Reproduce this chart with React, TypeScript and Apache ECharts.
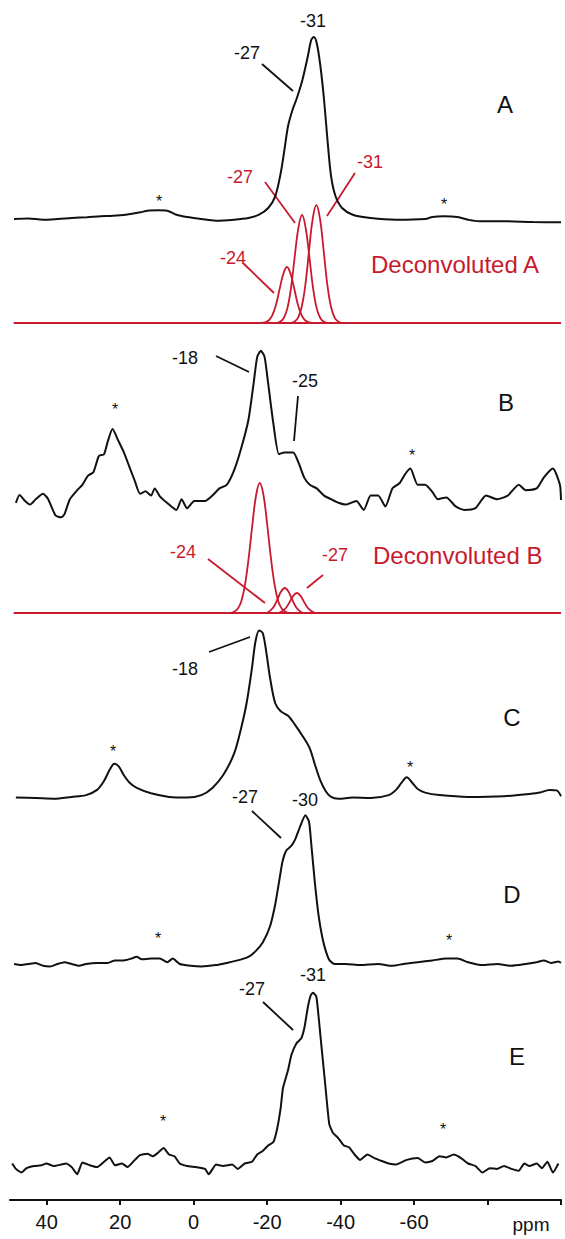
import React, { useEffect, useRef } from "react";
import * as echarts from "echarts";

type Pt = [number, number];

// x axis (ppm)
const ppmTickValues = [-100, -80, -60, -40, -20, 0, 20, 40];
const ppmLabelValues = [40, 20, 0, -20, -40, -60];

// Spectrum A (intensity above its own baseline)
const spectrumA: Pt[] = [
  [48.9, -1], [45, -0.5], [41.0, -1.7], [37, -1.0], [33.2, 0], [29, 0.8], [25.3, 1.7], [22, 2.2], [18.5, 3.3],
  [14.5, 5.7], [12.6, 7.3], [9.6, 7.7], [7.2, 7.3], [4.7, 3.3], [1.8, 1], [-2.1, -1], [-6.0, -2.7],
  [-11.0, -1.7], [-14.9, 0], [-17.8, 3.3], [-20.3, 10], [-22.2, 21.7], [-23.7, 45], [-24.7, 68],
  [-25.7, 92], [-26.9, 108], [-28.1, 120], [-29.6, 138], [-31.1, 162], [-32.0, 178], [-32.7, 181],
  [-33.5, 175], [-34.5, 152], [-35.5, 118], [-36.5, 75], [-37.4, 42], [-38.6, 22], [-40.4, 10],
  [-43.3, 3.3], [-48.2, 0], [-55.1, -1.7], [-63.0, -1], [-65.0, 1], [-67.9, 1.7], [-71.8, 1],
  [-74.7, -1.7], [-77.7, -3.3], [-84.5, -3.3], [-92.4, -4], [-100, -4.3],
];
const decA24: Pt[] = [
  [-18.4, 0], [-19.4, 0.6], [-20.4, 2.5], [-21.4, 7.6], [-22.4, 18], [-23.4, 34], [-24.4, 49], [-25.4, 56],
  [-26.4, 49], [-27.4, 34], [-28.4, 18], [-29.4, 7.6], [-30.4, 2.5], [-31.4, 0.6], [-32.4, 0],
];
const decA27: Pt[] = [
  [-22.5, 0], [-23.5, 1.2], [-24.5, 4.8], [-25.5, 14.6], [-26.5, 35], [-27.5, 66], [-28.5, 95], [-29.5, 108],
  [-30.5, 95], [-31.5, 66], [-32.5, 35], [-33.5, 14.6], [-34.5, 4.8], [-35.5, 1.2], [-36.5, 0],
];
const decA31: Pt[] = [
  [-26.4, 0], [-27.4, 1.3], [-28.4, 5.2], [-29.4, 16], [-30.4, 38], [-31.4, 72], [-32.4, 104], [-33.4, 118],
  [-34.4, 104], [-35.4, 72], [-36.4, 38], [-37.4, 16], [-38.4, 5.2], [-39.4, 1.3], [-40.4, 0],
];

// Spectrum B
const spectrumB: Pt[] = [
  [48.4, 2.2], [47.4, 10.1], [45.9, 4.0], [44.5, 0.4], [43.0, 5.8], [41.0, 11.2], [39.6, 5.8], [37.6, -10.5],
  [36.1, -12.3], [35.2, -9.4], [33.7, 5.8], [31.7, 14.8], [30.3, 20.2], [28.8, 29.2], [27.3, 32.8], [25.8, 49.0],
  [24.4, 50.8], [23.4, 63.4], [22.1, 76.0], [20.4, 63.4], [19.0, 52.6], [17.5, 38.2], [16.0, 23.8], [14.6, 11.2],
  [13.1, 13.7], [11.6, 9.4], [10.6, 16.6], [9.2, 8.6], [6.7, 0.4], [4.7, -5.0], [3.3, 5.8], [1.8, -3.2],
  [-0.2, 4.0], [-3.1, 4.0], [-5.1, 9.4], [-7.0, 16.6], [-9.0, 20.2], [-11.0, 34.6], [-12.9, 56.2], [-14.9, 85.0],
  [-16.3, 121.1], [-17.3, 148.1], [-18.3, 154.2], [-19.3, 148.1], [-20.3, 121.1], [-21.7, 81.4], [-23.2, 50.8],
  [-24.7, 52.6], [-27.1, 52.6], [-28.6, 41.8], [-30.1, 27.4], [-31.6, 20.2], [-33.5, 16.6], [-35.5, 9.4],
  [-37.4, 5.8], [-39.4, 2.2], [-41.4, 0.4], [-44.3, 4.0], [-46.3, -5.0], [-48.2, 9.4], [-50.2, 9.4], [-52.2, -1.4],
  [-54.1, 16.6], [-56.1, 22.0], [-57.6, 31.0], [-59.0, 36.4], [-61.0, 20.2], [-63.0, 20.2], [-65.0, 13.0],
  [-66.4, 5.8], [-68.8, 7.6], [-71.3, -1.4], [-73.7, -5.0], [-76.7, -3.2], [-79.6, 9.4], [-82.6, 5.8],
  [-85.5, 9.4], [-88.5, 20.2], [-90.4, 14.8], [-93.4, 16.6], [-95.3, 27.4], [-97.8, 36.4], [-99.7, 20.2], [-100, 5],
];
const decB18: Pt[] = [
  [-10, 0], [-11, 1.3], [-12, 4.3], [-13, 12], [-14, 29], [-15, 56], [-16, 89], [-17, 118], [-18, 130],
  [-19, 118], [-20, 89], [-21, 56], [-22, 29], [-23, 12], [-24, 4.3], [-25, 1.3], [-26, 0],
];
const decB24: Pt[] = [
  [-19.8, 0], [-20.8, 2.1], [-21.8, 6.2], [-22.8, 13.5], [-23.8, 21.4], [-24.8, 25], [-25.8, 21.4],
  [-26.8, 13.5], [-27.8, 6.2], [-28.8, 2.1], [-29.8, 0],
];
const decB27: Pt[] = [
  [-23.1, 0], [-24.1, 1.7], [-25.1, 5], [-26.1, 10.8], [-27.1, 17.1], [-28.1, 20], [-29.1, 17.1],
  [-30.1, 10.8], [-31.1, 5], [-32.1, 1.7], [-33.1, 0],
];

// Spectrum C
const spectrumC: Pt[] = [
  [48.4, 0.4], [43.0, 0], [38.1, -0.7], [33.2, 1.1], [29.3, 2.9], [26.3, 8.1], [24.4, 17.1], [22.9, 27.9],
  [21.6, 34.2], [20.4, 31.7], [19.0, 22.7], [17.5, 15.5], [15.5, 10.1], [11.6, 4.7], [6.7, 1.1], [1.8, 0.4],
  [-2.1, 2.9], [-5.1, 10.1], [-8.0, 22.7], [-11.0, 44.3], [-12.9, 69.5], [-14.4, 94.7], [-15.9, 130.8],
  [-16.8, 156.0], [-17.8, 167.6], [-18.8, 165.0], [-19.8, 145.2], [-20.8, 120.0], [-22.2, 94.7], [-23.7, 86.8],
  [-25.7, 82.2], [-27.6, 73.2], [-29.6, 62.3], [-31.6, 49.7], [-33.0, 33.5], [-34.5, 17.3], [-36.0, 6.5],
  [-37.4, 1.1], [-39.4, -0.7], [-43.3, 0.4], [-48.2, 0], [-53.1, 2.9], [-55.1, 8.1], [-56.6, 15.3], [-58.0, 20.8],
  [-59.5, 15.3], [-61.0, 9.0], [-63.0, 5.4], [-66.9, 2.9], [-74.7, 1.1], [-84.5, 1.8], [-91.4, 4.0],
  [-94.3, 5.4], [-96.8, 8.1], [-98.8, 7.6], [-100, 1.8],
];

// Spectrum D
const spectrumD: Pt[] = [
  [48.9, 0], [46.9, -1.1], [45.0, 0], [43.0, 1.1], [41.0, -1.8], [39.1, -2.5], [37.1, 0], [35.2, 1.8],
  [33.2, 0], [31.2, -1.8], [29.3, 0], [26.3, 1.1], [23.4, 1.1], [21.4, 3.6], [19.0, 3.6], [17.0, 5.4],
  [15.5, 7.2], [14.1, 4.7], [11.6, 5.4], [9.2, 5.4], [7.2, 1.8], [5.7, 5.4], [3.8, 0], [0.8, -1.8],
  [-2.1, -2.5], [-6.1, -1.1], [-9.0, 1.1], [-12.0, 3.6], [-14.9, 7.2], [-16.8, 12.6], [-18.8, 21.6],
  [-20.8, 37.8], [-22.2, 59.5], [-23.2, 81.1], [-24.2, 102.7], [-25.2, 113.5], [-26.5, 117.8], [-27.6, 124.3],
  [-29.1, 138.7], [-30.4, 148.8], [-31.4, 142.3], [-32.0, 120.7], [-33.0, 81.1], [-34.0, 48.6], [-35.0, 27.0],
  [-36.0, 12.6], [-37.0, 3.6], [-38.4, 0], [-41.4, 0], [-45.3, -1.1], [-50.2, 0], [-54.1, -1.8], [-57.1, 0],
  [-61.0, 1.8], [-65.0, 3.6], [-68.8, 5.4], [-71.8, 5.4], [-74.7, 1.8], [-78.6, -1.1], [-82.6, 0],
  [-86.5, -1.8], [-90.4, 0], [-93.4, 1.8], [-95.3, 3.6], [-97.3, 1.1], [-99.3, 2.5], [-100, 1.1],
];

// Spectrum E
const spectrumE: Pt[] = [
  [49.4, 2.5], [48.4, -2.9], [46.9, -6.5], [45.5, -2.2], [43.5, 0], [41.5, 0.7], [40.1, 2.5], [38.1, 0],
  [36.1, 1.4], [34.7, 2.5], [33.2, -1.1], [31.7, -8.3], [30.3, 3.6], [28.3, 0.7], [26.3, -1.1], [24.4, 4.3],
  [22.9, 8.6], [21.4, 0.7], [19.5, 2.5], [18.0, -1.1], [16.0, 6.1], [14.6, 10.8], [12.6, 12.2], [11.1, 9.7],
  [9.7, 13.3], [8.2, 18.0], [6.7, 11.5], [5.2, 9.7], [3.8, 2.5], [1.8, 0], [-0.6, -1.1], [-3.1, -2.9],
  [-4.1, -8.3], [-6.1, 1.4], [-8.0, 0], [-10.5, 1.4], [-12.0, -2.9], [-13.9, 2.5], [-15.9, 4.3], [-17.3, 11.5],
  [-18.8, 15.1], [-20.3, 20.5], [-21.7, 24.1], [-22.7, 36.8], [-23.7, 58.4], [-24.3, 77.7], [-25.7, 96],
  [-26.6, 111], [-28.0, 122.7], [-29.3, 127.7], [-30.2, 139.3], [-31.1, 159.3], [-31.9, 171], [-32.5, 173.3],
  [-33.4, 169.3], [-34.1, 146], [-34.8, 119.3], [-35.7, 86], [-36.9, 42.2], [-37.9, 33.2], [-39.4, 27.7],
  [-40.9, 20.5], [-42.3, 18.7], [-43.8, 11.5], [-45.3, 6.1], [-47.3, 11.5], [-49.2, 7.9], [-51.2, 5.0],
  [-53.1, 2.5], [-55.1, 1.4], [-58.0, 6.1], [-61.0, 7.9], [-63.0, 3.6], [-65.0, 5.0], [-66.9, 9.7],
  [-68.8, 8.6], [-70.8, 11.5], [-72.8, 7.9], [-74.7, 2.5], [-76.7, 0], [-78.6, -6.5], [-80.6, -2.2],
  [-82.6, -2.9], [-84.5, 0], [-86.5, -2.9], [-88.5, -4.7], [-90.0, 2.5], [-91.4, 0], [-93.4, 2.5],
  [-94.8, -2.2], [-96.3, 4.3], [-97.8, -6.5], [-99.3, 2.5],
];

const redBaseline: Pt[] = [[49, 0], [-100, 0]];

// layout: vertical offset of each trace (y units = px above the axis line)
const OFFSET = { A: 982, Ad: 877, B: 695, Bd: 587, C: 402, D: 236, E: 34 };

const BLACK = "#111111";
const RED = "#c8192e";
const FONT = '"Liberation Sans", Arial, Helvetica, sans-serif';

type Txt = { t: string; x: number; y: number; s: number; c: string; a?: string };
const texts: Txt[] = [
  { t: "-31", x: 313, y: 21, s: 18, c: BLACK },
  { t: "-27", x: 247, y: 53, s: 18, c: BLACK },
  { t: "A", x: 505, y: 104, s: 24, c: BLACK },
  { t: "*", x: 159, y: 201, s: 16, c: BLACK },
  { t: "*", x: 444, y: 204, s: 16, c: BLACK },
  { t: "-27", x: 240, y: 177, s: 18, c: RED },
  { t: "-31", x: 370, y: 162, s: 18, c: RED },
  { t: "-24", x: 233, y: 258, s: 18, c: RED },
  { t: "Deconvoluted A", x: 371, y: 264, s: 24, c: RED, a: "left" },
  { t: "-18", x: 185, y: 358, s: 18, c: BLACK },
  { t: "-25", x: 305, y: 381, s: 18, c: BLACK },
  { t: "B", x: 506, y: 402, s: 24, c: BLACK },
  { t: "*", x: 115, y: 409, s: 16, c: BLACK },
  { t: "*", x: 412, y: 455, s: 16, c: BLACK },
  { t: "-24", x: 183, y: 552, s: 18, c: RED },
  { t: "-27", x: 335, y: 555, s: 18, c: RED },
  { t: "Deconvoluted B", x: 373, y: 555, s: 24, c: RED, a: "left" },
  { t: "-18", x: 185, y: 669, s: 18, c: BLACK },
  { t: "C", x: 512, y: 717, s: 24, c: BLACK },
  { t: "*", x: 113, y: 751, s: 16, c: BLACK },
  { t: "*", x: 410, y: 767, s: 16, c: BLACK },
  { t: "-27", x: 245, y: 797, s: 18, c: BLACK },
  { t: "-30", x: 305, y: 800, s: 18, c: BLACK },
  { t: "D", x: 512, y: 894, s: 24, c: BLACK },
  { t: "*", x: 158, y: 938, s: 16, c: BLACK },
  { t: "*", x: 449, y: 940, s: 16, c: BLACK },
  { t: "-27", x: 252, y: 989, s: 18, c: BLACK },
  { t: "-31", x: 313, y: 975, s: 18, c: BLACK },
  { t: "E", x: 517, y: 1056, s: 24, c: BLACK },
  { t: "*", x: 163, y: 1121, s: 16, c: BLACK },
  { t: "*", x: 443, y: 1129, s: 16, c: BLACK },
  { t: "ppm", x: 531, y: 1224, s: 19, c: BLACK },
];

type Lead = { x1: number; y1: number; x2: number; y2: number; c: string };
const leaders: Lead[] = [
  { x1: 262, y1: 64, x2: 293, y2: 91, c: BLACK },
  { x1: 265, y1: 182, x2: 295, y2: 223, c: RED },
  { x1: 355, y1: 173, x2: 327, y2: 216, c: RED },
  { x1: 243, y1: 263, x2: 274, y2: 293, c: RED },
  { x1: 216, y1: 356, x2: 249, y2: 372, c: BLACK },
  { x1: 298, y1: 396, x2: 294, y2: 441, c: BLACK },
  { x1: 208, y1: 559, x2: 265, y2: 603, c: RED },
  { x1: 323, y1: 575, x2: 307, y2: 588, c: RED },
  { x1: 209, y1: 652, x2: 250, y2: 637, c: BLACK },
  { x1: 252, y1: 811, x2: 281, y2: 838, c: BLACK },
  { x1: 263, y1: 1002, x2: 293, y2: 1030, c: BLACK },
];

function trace(data: Pt[], offset: number, color: string, width: number, smooth: number) {
  return {
    type: "line",
    data: data.map(([p, h]) => [p, offset + h]),
    showSymbol: false,
    symbol: "none",
    smooth,
    lineStyle: { color, width },
    silent: true,
  };
}

export default function App() {
  const ref = useRef<HTMLDivElement>(null);
  useEffect(() => {
    document.body.style.margin = "0";
    if (!ref.current) return;
    const chart = echarts.init(ref.current, undefined, { renderer: "svg" });
    chart.setOption({
      animation: false,
      backgroundColor: "#ffffff",
      grid: { left: 10, right: 4, top: 0, bottom: 39 },
      xAxis: {
        type: "value",
        min: -100,
        max: 50,
        inverse: true,
        interval: 20,
        splitLine: { show: false },
        axisLine: { show: true, lineStyle: { color: BLACK, width: 2 } },
        axisTick: {
          show: true,
          length: 5,
          lineStyle: { color: BLACK, width: 2 },
          customValues: ppmTickValues,
        },
        axisLabel: {
          color: BLACK,
          fontSize: 20,
          fontFamily: FONT,
          margin: 12,
          customValues: ppmLabelValues,
          formatter: (v: number) => String(v),
        },
      },
      yAxis: { type: "value", min: 0, max: 1200, show: false },
      series: [
        trace(redBaseline, OFFSET.Ad, RED, 2, 0),
        trace(decA24, OFFSET.Ad, RED, 1.8, 0.4),
        trace(decA27, OFFSET.Ad, RED, 1.8, 0.4),
        trace(decA31, OFFSET.Ad, RED, 1.8, 0.4),
        trace(spectrumA, OFFSET.A, BLACK, 2, 0.3),
        trace(redBaseline, OFFSET.Bd, RED, 2, 0),
        trace(decB18, OFFSET.Bd, RED, 1.8, 0.4),
        trace(decB24, OFFSET.Bd, RED, 1.8, 0.4),
        trace(decB27, OFFSET.Bd, RED, 1.8, 0.4),
        trace(spectrumB, OFFSET.B, BLACK, 2, 0.2),
        trace(spectrumC, OFFSET.C, BLACK, 2, 0.3),
        trace(spectrumD, OFFSET.D, BLACK, 2, 0.2),
        trace(spectrumE, OFFSET.E, BLACK, 2, 0.15),
      ],
      graphic: [
        ...leaders.map((l) => ({
          type: "line",
          shape: { x1: l.x1, y1: l.y1, x2: l.x2, y2: l.y2 },
          style: { stroke: l.c, lineWidth: 1.8 },
          silent: true,
        })),
        ...texts.map((t) => ({
          type: "text",
          x: t.x,
          y: t.y,
          silent: true,
          style: {
            text: t.t,
            fill: t.c,
            font: `${t.s}px ${FONT}`,
            textAlign: t.a || "center",
            textVerticalAlign: "middle",
          },
        })),
      ],
    });
    return () => chart.dispose();
  }, []);
  return <div ref={ref} style={{ width: 565, height: 1239 }} />;
}
